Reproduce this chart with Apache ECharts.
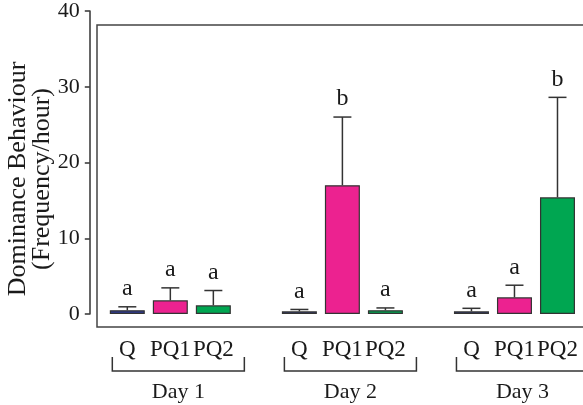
<!DOCTYPE html>
<html>
<head>
<meta charset="utf-8">
<script src="https://cdn.jsdelivr.net/npm/echarts@6/dist/echarts.min.js"></script>
<style>html,body{margin:0;padding:0;background:#fff;}#c{width:583px;height:405px;}</style>
</head>
<body>
<div id="c"></div>
<script>
var days = ['Day 1', 'Day 2', 'Day 3'];
var treatments = ['Q', 'PQ1', 'PQ2'];
var meanQ = [0.5, 0.35, 0.35];
var meanPQ1 = [1.8, 17.0, 2.2];
var meanPQ2 = [1.15, 0.5, 15.4];
var upperQ = [0.95, 0.6, 0.75];
var upperPQ1 = [3.45, 26.0, 3.8];
var upperPQ2 = [3.1, 0.8, 28.6];
var lettersQ = ['a', 'a', 'a'];
var lettersPQ1 = ['a', 'b', 'a'];
var lettersPQ2 = ['a', 'a', 'b'];
var yTicks = [0, 10, 20, 30, 40];

var FONT = '"Liberation Serif", "Times New Roman", serif';
var colors = {Q: '#2e3a94', PQ1: '#ec2290', PQ2: '#00a651'};
var means = {Q: meanQ, PQ1: meanPQ1, PQ2: meanPQ2};
var uppers = {Q: upperQ, PQ1: upperPQ1, PQ2: upperPQ2};
var letters = {Q: lettersQ, PQ1: lettersPQ1, PQ2: lettersPQ2};

var categories = [];
var barData = [];
var errData = [];
var dayData = [];
days.forEach(function (d, di) {
  if (di > 0) { categories.push(''); barData.push('-'); }
  var start = categories.length;
  treatments.forEach(function (t) {
    var idx = categories.length;
    categories.push(t);
    barData.push({value: means[t][di], itemStyle: {color: colors[t]}});
    errData.push([idx, means[t][di], uppers[t][di], letters[t][di]]);
  });
  dayData.push([start, 0, categories.length - 1, d]);
});

var chart = echarts.init(document.getElementById('c'));
chart.setOption({
  animation: false,
  backgroundColor: '#fff',
  grid: {left: 105.8, right: 4, top: 11, bottom: 91},
  xAxis: {
    type: 'category', data: categories,
    axisLine: {show: false}, axisTick: {show: false},
    axisLabel: {interval: 0, margin: 24, fontSize: 23, fontFamily: FONT, color: '#1a1a1a'}
  },
  yAxis: {
    type: 'value', min: yTicks[0], max: yTicks[yTicks.length - 1], interval: 10,
    offset: 16,
    axisLine: {show: true, lineStyle: {color: '#333', width: 1.5}},
    axisTick: {show: true, length: 5, lineStyle: {color: '#333', width: 1.5}},
    splitLine: {show: false},
    axisLabel: {margin: 10, fontSize: 22, fontFamily: FONT, color: '#1a1a1a'}
  },
  graphic: [
    {type: 'rect', silent: true, z: -1, shape: {x: 97, y: 25, width: 520, height: 302},
     style: {fill: 'none', stroke: '#444', lineWidth: 1.5}},
    {type: 'text', x: 30, y: 179, rotation: Math.PI / 2,
     style: {text: 'Dominance Behaviour\n(Frequency/hour)', fontSize: 26, fontFamily: FONT,
       lineHeight: 24, fill: '#1a1a1a', align: 'center', verticalAlign: 'middle',
       textAlign: 'center', textVerticalAlign: 'middle'}}
  ],
  series: [
    {
      type: 'bar', data: barData, barWidth: 35,
      itemStyle: {borderColor: '#333', borderWidth: 1.2}
    },
    {
      type: 'custom', data: errData, clip: false, z: 5,
      encode: {x: 0, y: 2},
      renderItem: function (params, api) {
        var p0 = api.coord([api.value(0), api.value(1)]);
        var p1 = api.coord([api.value(0), api.value(2)]);
        var st = {stroke: '#333', lineWidth: 1.5};
        return {type: 'group', children: [
          {type: 'line', shape: {x1: p0[0], y1: p0[1], x2: p1[0], y2: p1[1]}, style: st},
          {type: 'line', shape: {x1: p1[0] - 9, y1: p1[1], x2: p1[0] + 9, y2: p1[1]}, style: st},
          {type: 'text', style: {text: errData[params.dataIndex][3], x: p1[0], y: p1[1] - 6,
            fontSize: 24, fontFamily: FONT, fill: '#1a1a1a', align: 'center', verticalAlign: 'bottom',
            textAlign: 'center', textVerticalAlign: 'bottom'}}
        ]};
      }
    },
    {
      type: 'custom', data: dayData, clip: false, silent: true,
      encode: {x: 0, y: 1},
      renderItem: function (params, api) {
        var a = api.coord([api.value(0), 0]);
        var b = api.coord([api.value(2), 0]);
        var x0 = a[0] - 15, x1 = b[0] + 31, y0 = a[1] + 43, y1 = a[1] + 57;
        return {type: 'group', children: [
          {type: 'polyline', shape: {points: [[x0, y0], [x0, y1], [x1, y1], [x1, y0]]},
           style: {stroke: '#333', lineWidth: 1.5, fill: 'none'}},
          {type: 'text', style: {text: dayData[params.dataIndex][3], x: (x0 + x1) / 2, y: a[1] + 78,
            fontSize: 22, fontFamily: FONT, fill: '#1a1a1a', align: 'center', verticalAlign: 'middle',
            textAlign: 'center', textVerticalAlign: 'middle'}}
        ]};
      }
    }
  ]
});
</script>
</body>
</html>
